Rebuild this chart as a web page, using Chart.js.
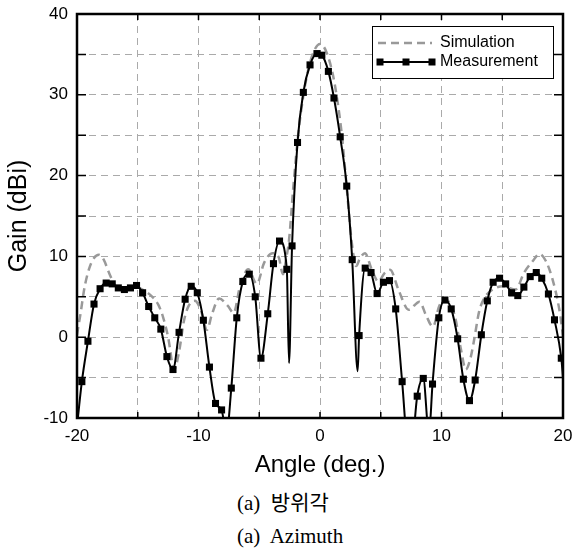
<!DOCTYPE html>
<html>
<head>
<meta charset="utf-8">
<script src="https://cdn.jsdelivr.net/npm/chart.js@4"></script>
<style>
  body { margin: 0; background: #fff; }
  #wrap { position: relative; width: 575px; height: 551px; }
  .cap { position: absolute; left: 237px; font-family: 'Liberation Serif', 'Noto Sans CJK KR', serif; font-size: 21px; color: #000; white-space: pre; }
</style>
</head>
<body>
<div id="wrap">
  <canvas id="myChart" width="575" height="480"></canvas>
  <div class="cap" style="top:486px">(a)  방위각</div>
  <div class="cap" style="top:524px">(a)  Azimuth</div>
</div>
<script>
// simulated pattern (dashed grey)
const simAngle = [-20, -19.7, -19.4, -19.0, -18.6, -18.2, -17.8, -17.4, -16.9, -16.4, -15.3, -14.5, -13.8, -13.3, -12.9, -12.5, -12.0, -11.6, -11.2, -10.8,
  -10.3, -9.8, -9.3, -8.9, -8.3, -7.6, -7.1, -6.6, -5.9, -5.2, -4.6, -3.9, -3.4, -3.05, -2.8, -2.55, -2.2, -1.8, -1.4, -1.0,
  -0.5, 0, 0.5, 1.0, 1.4, 1.8, 2.2, 2.55, 2.75, 2.97, 3.3, 3.7, 4.25, 4.8, 5.3, 5.77, 6.45, 7.3, 8.2, 8.7,
  9.3, 9.8, 10.3, 11.1, 11.6, 12.0, 12.4, 12.7, 13.1, 13.55, 14.2, 15.05, 16.1, 16.8, 17.5, 18.06, 18.6, 19.15, 19.7, 20];
const simGain = [0.3, 3.0, 6.0, 8.5, 9.8, 10.2, 9.6, 8.1, 6.5, 6.0, 6.3, 5.8, 5.0, 4.0, 2.4, 0.0, -4.0, -1.8, 2.0, 3.9,
  4.5, 3.3, 0.9, 2.8, 4.8, 3.9, 3.0, 6.2, 8.4, 6.6, 9.2, 10.4, 9.9, 7.8, 9.6, 12.0, 18.5, 25.0, 29.6, 32.9,
  35.4, 36.3, 35.4, 32.9, 29.6, 25.0, 18.5, 12.6, 10.2, 8.8, 9.8, 10.4, 8.4, 6.9, 7.9, 8.35, 5.9, 3.4, 4.4, 2.8,
  1.3, 3.8, 4.7, 2.6, -1.5, -4.0, -2.5, -0.2, 3.2, 4.9, 5.9, 6.3, 5.9, 8.0, 9.4, 10.3, 9.4, 7.1, 3.4, 0.2];

// measured pattern, points with square markers
const measAngle = [-19.6, -19.1, -18.6, -18.1, -17.6, -17.1, -16.6, -16.1, -15.6, -15.1, -14.6, -14.1, -13.6, -13.1, -12.6, -12.1, -11.6, -11.1, -10.6, -10.1,
  -9.6, -9.1, -8.6, -8.1, -7.3, -6.85, -6.35, -5.82, -5.33, -4.86, -4.3, -3.83, -3.33, -2.73, -2.3, -1.85, -1.37, -0.82, -0.25, 0.15,
  0.69, 1.15, 1.66, 2.2, 2.65, 3.22, 3.72, 4.2, 4.7, 5.22, 5.72, 6.23, 6.76, 8.0, 8.5, 9.26, 9.78, 10.28, 10.8, 11.33,
  11.8, 12.3, 12.77, 13.28, 13.77, 14.25, 14.78, 15.28, 15.77, 16.28, 16.78, 17.3, 17.8, 18.25, 18.8, 19.3, 19.86];
const measGain = [-5.5, -0.5, 4.1, 6.0, 6.7, 6.6, 6.1, 5.9, 6.1, 6.4, 5.5, 3.8, 2.4, 1.0, -2.4, -4.0, 0.6, 4.7, 6.3, 5.5,
  2.1, -3.7, -8.2, -9.0, -6.3, 2.4, 6.9, 7.8, 5.0, -2.6, 2.9, 9.1, 11.9, 8.4, 11.3, 24.1, 30.3, 33.7, 35.1, 34.9,
  32.9, 29.6, 24.8, 18.7, 9.6, 0.2, 8.55, 8.0, 5.4, 6.8, 7.0, 3.5, -5.5, -7.3, -5.1, -5.8, 2.4, 4.6, 3.5, -0.2,
  -5.2, -7.85, -5.3, 0.3, 4.5, 6.8, 7.3, 6.6, 5.5, 5.15, 6.2, 7.5, 8.0, 7.3, 5.35, 2.15, -2.6];
// measured nulls between markers (no marker drawn)
const dipAngle = [-20, -7.7, -2.55, 3.1, 7.4, 8.97, 20];
const dipGain = [-11, -12, -3.2, -4.2, -16, -12, -5];

const xLabels = [-20, -10, 0, 10, 20];
const yLabels = [-10, 0, 10, 20, 30, 40];

const sans = "'Liberation Sans', Arial, sans-serif";

const simPts = simAngle.map((a, i) => ({x: a, y: simGain[i]}));
const measPts = measAngle.map((a, i) => ({x: a, y: measGain[i], mark: true}))
  .concat(dipAngle.map((a, i) => ({x: a, y: dipGain[i], mark: false})))
  .sort((p, q) => p.x - q.x);

// frame, inward tick marks and the boxed legend
const framePlugin = {
  id: 'frame',
  afterDraw(chart) {
    const {ctx, chartArea: a, scales: {x, y}} = chart;
    ctx.save();
    ctx.strokeStyle = '#000';
    ctx.lineWidth = 1.5;
    ctx.beginPath();
    x.ticks.forEach(t => {
      const px = x.getPixelForValue(t.value);
      ctx.moveTo(px, a.bottom); ctx.lineTo(px, a.bottom - 6);
      ctx.moveTo(px, a.top); ctx.lineTo(px, a.top + 6);
    });
    y.ticks.forEach(t => {
      const py = y.getPixelForValue(t.value);
      ctx.moveTo(a.left, py); ctx.lineTo(a.left + 9, py);
      ctx.moveTo(a.right, py); ctx.lineTo(a.right - 9, py);
    });
    ctx.stroke();
    ctx.lineWidth = 2.5;
    ctx.strokeRect(a.left, a.top, a.right - a.left, a.bottom - a.top);

    // legend
    const sim = chart.data.datasets[0], meas = chart.data.datasets[1];
    const bx = a.right - 191, by = a.top + 12, bw = 181, bh = 52;
    ctx.fillStyle = '#fff';
    ctx.fillRect(bx, by, bw, bh);
    ctx.lineWidth = 1;
    ctx.strokeRect(bx + 0.5, by + 0.5, bw, bh);
    const r1 = by + 17, r2 = by + 36, l0 = bx + 6, l1 = bx + 60;
    ctx.strokeStyle = sim.borderColor;
    ctx.lineWidth = sim.borderWidth;
    ctx.setLineDash(sim.borderDash);
    ctx.beginPath(); ctx.moveTo(l0, r1); ctx.lineTo(l1, r1); ctx.stroke();
    ctx.setLineDash([]);
    ctx.strokeStyle = meas.borderColor;
    ctx.lineWidth = meas.borderWidth;
    ctx.beginPath(); ctx.moveTo(l0 + 2, r2); ctx.lineTo(l1, r2); ctx.stroke();
    ctx.fillStyle = '#000';
    [l0 + 2, (l0 + l1) / 2 + 1, l1].forEach(px => ctx.fillRect(px - 3.5, r2 - 3.5, 7, 7));
    ctx.font = '16px ' + sans;
    ctx.textBaseline = 'middle';
    ctx.textAlign = 'left';
    ctx.fillText(sim.label, l1 + 8, r1);
    ctx.fillText(meas.label, l1 + 8, r2);
    ctx.restore();
  }
};

new Chart(document.getElementById('myChart'), {
  type: 'line',
  data: {
    datasets: [{
      label: 'Simulation',
      data: simPts,
      borderColor: '#999999',
      borderWidth: 2.5,
      borderDash: [8, 5],
      pointRadius: 0,
      cubicInterpolationMode: 'monotone',
      order: 1
    }, {
      label: 'Measurement',
      data: measPts,
      borderColor: '#000000',
      backgroundColor: '#000000',
      borderWidth: 2,
      pointStyle: 'rect',
      pointRadius: c => (c.raw && c.raw.mark ? 5 : 0),
      pointBorderWidth: 0,
      pointBackgroundColor: '#000000',
      cubicInterpolationMode: 'monotone',
      order: 0
    }]
  },
  options: {
    responsive: false,
    animation: false,
    layout: { padding: { left: 0, right: 12, top: 14, bottom: 0 } },
    plugins: { legend: { display: false }, tooltip: { enabled: false } },
    scales: {
      x: {
        type: 'linear', min: -20, max: 20,
        ticks: {
          stepSize: 5, padding: 8, maxRotation: 0, autoSkip: false, color: '#000',
          font: { family: sans, size: 17 },
          callback: v => (xLabels.includes(v) ? String(v) : '')
        },
        grid: { color: '#aaaaaa', lineWidth: 1, drawTicks: false },
        border: { display: false, dash: [7, 5] },
        title: { display: true, text: 'Angle (deg.)', color: '#000', font: { family: sans, size: 24 }, padding: { top: 0, bottom: 0 } },
        afterFit: s => { s.height = 62; s.paddingLeft = 0; s.paddingRight = 0; }
      },
      y: {
        min: -10, max: 40,
        ticks: {
          stepSize: 5, padding: 9, color: '#000',
          font: { family: sans, size: 17 },
          callback: v => (yLabels.includes(v) ? String(v) : '')
        },
        grid: { color: '#aaaaaa', lineWidth: 1, drawTicks: false },
        border: { display: false, dash: [7, 5] },
        title: { display: true, text: 'Gain (dBi)', color: '#000', font: { family: sans, size: 25 }, padding: { top: 4, bottom: 0 } },
        afterFit: s => { s.width = 77; s.paddingTop = 0; s.paddingBottom = 0; }
      }
    }
  },
  plugins: [framePlugin]
});
</script>
</body>
</html>
